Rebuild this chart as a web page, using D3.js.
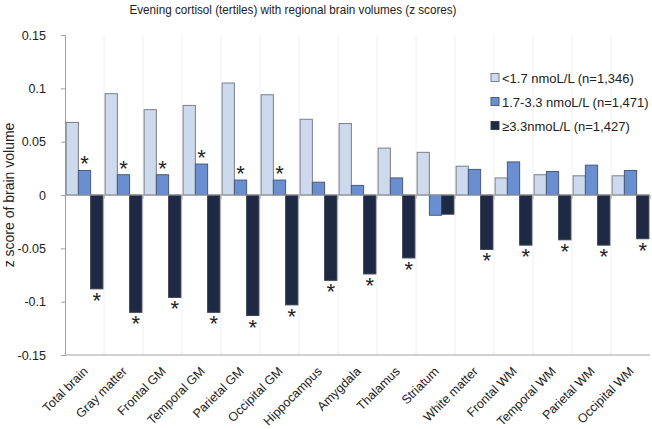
<!DOCTYPE html>
<html><head><meta charset="utf-8">
<script src="https://cdn.jsdelivr.net/npm/d3@7/dist/d3.min.js"></script>
<style>body{margin:0;background:#fff;}svg{display:block;font-family:"Liberation Sans",Arial,sans-serif;}</style>
</head><body><svg id="c" width="652" height="429"></svg>
<script>
const categories = ["Total brain","Gray matter","Frontal GM","Temporal GM","Parietal GM","Occipital GM","Hippocampus","Amygdala","Thalamus","Striatum","White matter","Frontal WM","Temporal WM","Parietal WM","Occipital WM"];
const seriesNames = ["<1.7 nmoL/L (n=1,346)","1.7-3.3 nmoL/L (n=1,471)","\u22653.3nmoL/L (n=1,427)"];
const low = [0.068,0.095,0.080,0.084,0.105,0.094,0.071,0.067,0.044,0.040,0.027,0.016,0.019,0.018,0.018];
const mid = [0.023,0.019,0.019,0.029,0.014,0.014,0.012,0.009,0.016,-0.019,0.024,0.031,0.022,0.028,0.023];
const high = [-0.088,-0.110,-0.096,-0.110,-0.113,-0.103,-0.080,-0.074,-0.059,-0.018,-0.051,-0.047,-0.042,-0.047,-0.041];
const midSig = [1,1,1,1,1,1,0,0,0,0,0,0,0,0,0];
const highSig = [1,1,1,1,1,1,1,1,1,0,1,1,1,1,1];
const yTicks = [0.15,0.1,0.05,0,-0.05,-0.1,-0.15];
const yTickLabels = ["0.15","0.1","0.05","0","-0.05","-0.1","-0.15"];
const colors = ["#cdd9ec","#6a8fd0","#1e2944"];
const strokes = ["#7a7f88","#4a5a78","#3a4050"];

const svg = d3.select("#c");
const x = d3.scaleBand().domain(categories).range([65,650]).paddingInner(0).paddingOuter(0);
const y = d3.scaleLinear().domain([-0.15,0.15]).range([355,35]);
const inner = d3.scaleBand().domain([0,1,2]).range([0, x.bandwidth()]).paddingOuter(0.09).paddingInner(0);

// faint vertical separators
svg.append("g").selectAll("line").data(categories.slice(1)).join("line")
  .attr("x1",d=>x(d)).attr("x2",d=>x(d)).attr("y1",35).attr("y2",355)
  .attr("stroke","#f0f0f0").attr("stroke-width",1);

// title
svg.append("text").attr("x",293).attr("y",14).attr("text-anchor","middle")
  .attr("font-size",13.5).attr("fill","#222")
  .attr("textLength",327).attr("lengthAdjust","spacingAndGlyphs")
  .text("Evening cortisol (tertiles) with regional brain volumes (z scores)");

// y axis
const yAxis = svg.append("g").attr("transform","translate(65,0)")
  .call(d3.axisLeft(y).tickValues(yTicks).tickFormat((d,i)=>yTickLabels[i]).tickSize(4).tickPadding(15));
yAxis.select(".domain").attr("stroke","#a0a0a0");
yAxis.selectAll(".tick line").attr("stroke","#a0a0a0");
yAxis.selectAll(".tick text").attr("font-size",12.5).attr("fill","#222").attr("font-family","Liberation Sans, Arial, sans-serif");

svg.append("text").attr("transform","translate(14,195) rotate(-90)").attr("text-anchor","middle")
  .attr("font-size",14).attr("fill","#222").text("z score of brain volume");

// bottom line
svg.append("line").attr("x1",65).attr("x2",650).attr("y1",y(-0.15)).attr("y2",y(-0.15)).attr("stroke","#a0a0a0");

// bars
const series = [low,mid,high];
series.forEach((vals,si)=>{
  svg.append("g").selectAll("rect").data(vals).join("rect")
    .attr("x",(d,i)=>x(categories[i])+inner(si))
    .attr("width",inner.bandwidth())
    .attr("y",d=>y(Math.max(0,d)))
    .attr("height",d=>Math.abs(y(d)-y(0)))
    .attr("fill",colors[si]).attr("stroke",strokes[si]).attr("stroke-width",1);
});

// zero axis with category ticks
svg.append("line").attr("x1",65).attr("x2",650).attr("y1",y(0)).attr("y2",y(0)).attr("stroke","#a0a0a0");
svg.append("g").selectAll("line").data(categories).join("line")
  .attr("x1",d=>x(d)+x.bandwidth()).attr("x2",d=>x(d)+x.bandwidth())
  .attr("y1",y(0)).attr("y2",y(0)+4).attr("stroke","#a0a0a0");

// asterisks
const midStars = categories.map((c,i)=>({c, v:mid[i], s:midSig[i]})).filter(d=>d.s);
const highStars = categories.map((c,i)=>({c, v:high[i], s:highSig[i]})).filter(d=>d.s);
svg.append("g").selectAll("text").data(midStars).join("text")
  .attr("x",d=>x(d.c)+inner(1)+inner.bandwidth()/2)
  .attr("y",d=>y(d.v)+1)
  .attr("text-anchor","middle").attr("font-size",22).attr("fill","#222").text("*");
svg.append("g").selectAll("text").data(highStars).join("text")
  .attr("x",d=>x(d.c)+inner(2)+inner.bandwidth()/2)
  .attr("y",d=>y(d.v)+19)
  .attr("text-anchor","middle").attr("font-size",22).attr("fill","#222").text("*");

// x labels
svg.append("g").selectAll("text").data(categories).join("text")
  .attr("transform",d=>`translate(${x(d)+x.bandwidth()/2+1},369) rotate(-45)`)
  .attr("text-anchor","end").attr("dy","0.35em")
  .attr("font-size",12.5).attr("fill","#222").text(d=>d);

// legend
const lg = svg.append("g");
seriesNames.forEach((n,i)=>{
  const yy = 78 + i*24;
  lg.append("rect").attr("x",491).attr("y",yy-4.5).attr("width",8).attr("height",8)
    .attr("fill",colors[i]).attr("stroke",strokes[i]);
  lg.append("text").attr("x",502).attr("y",yy).attr("dy","0.35em").attr("font-size",13).attr("fill","#222").text(n);
});
</script></body></html>
